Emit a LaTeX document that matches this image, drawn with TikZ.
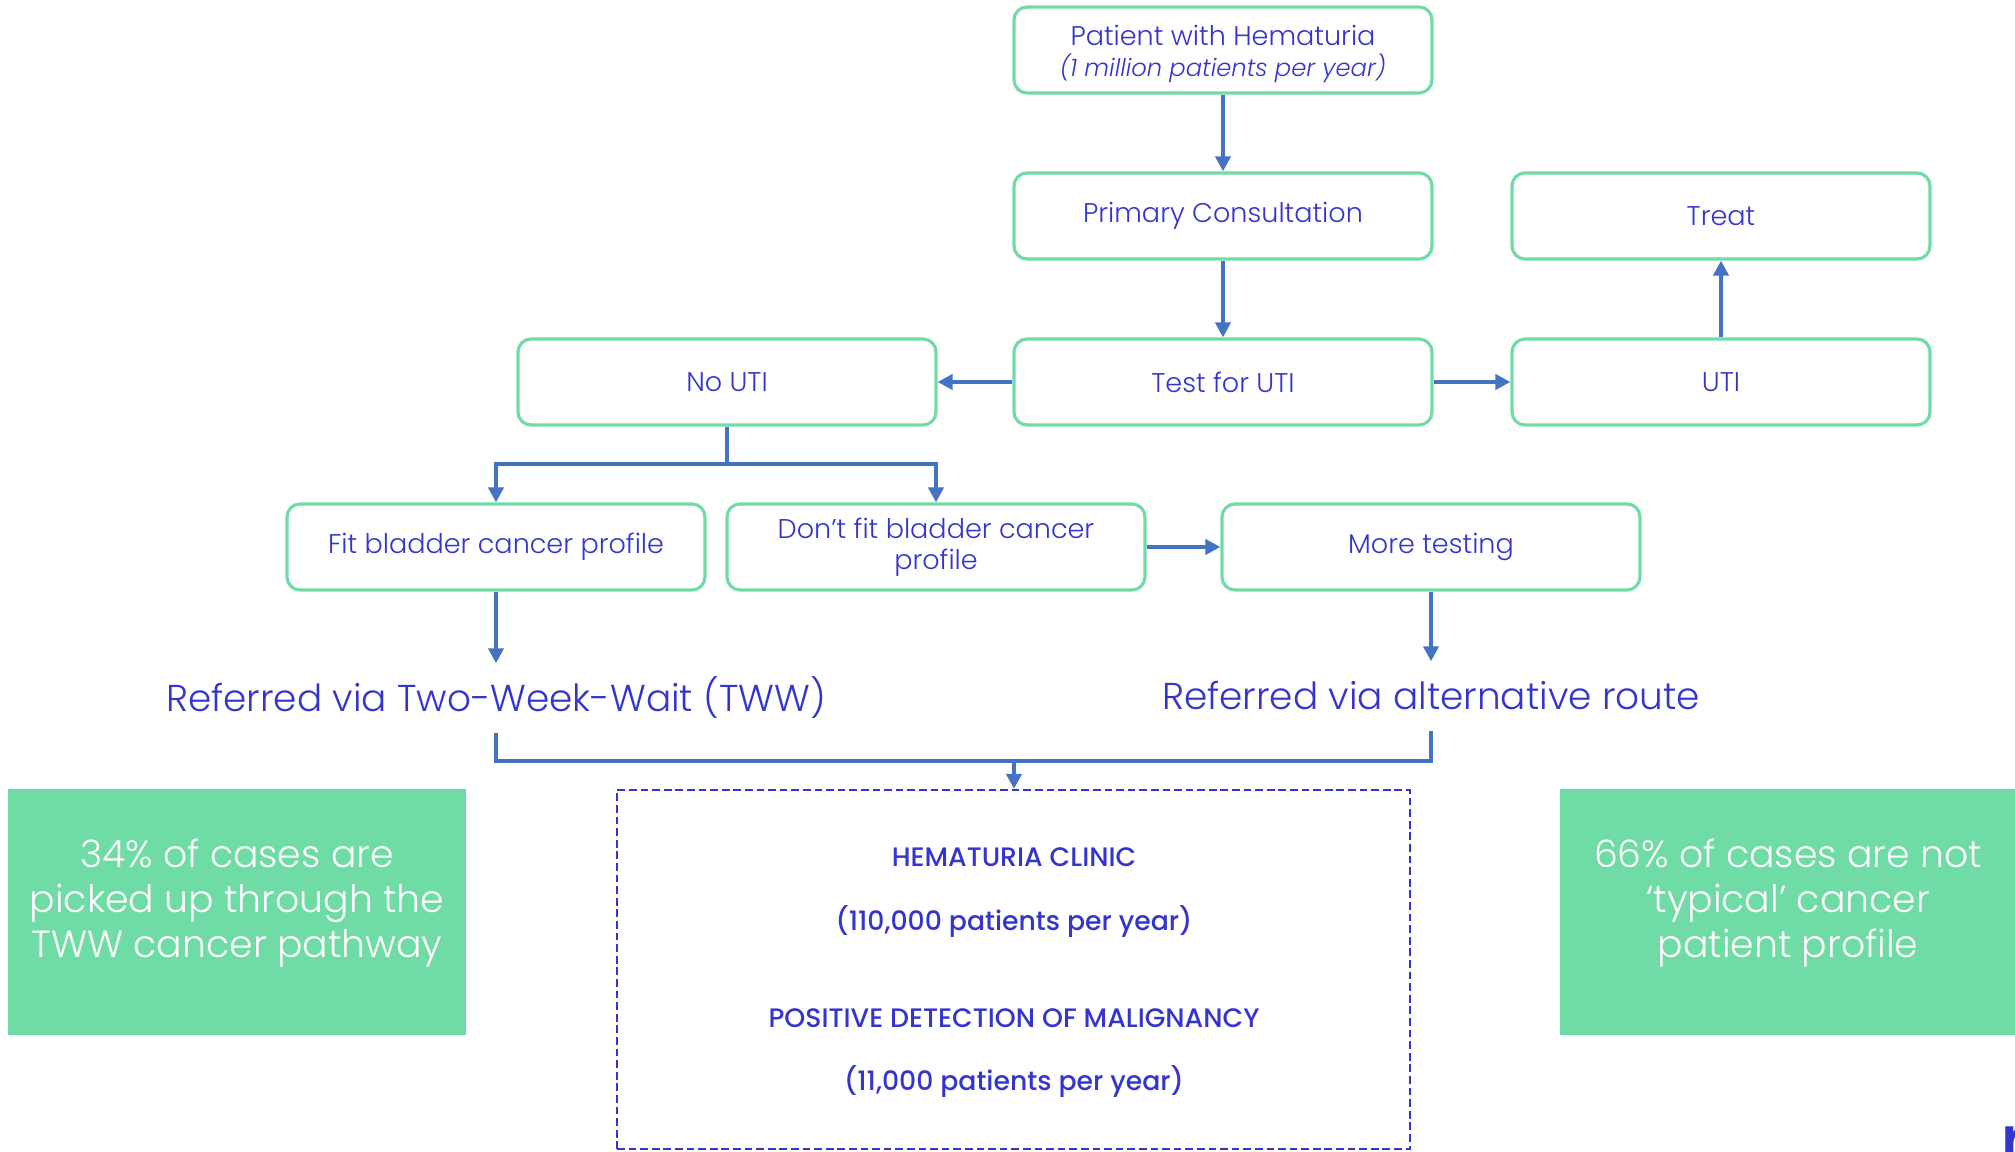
\documentclass[tikz,border=0pt]{standalone}
\usepackage{fontspec}
\setmainfont{Poppins}
\newfontfamily\poplight{Poppins Light}
\newfontfamily\poplightit{Poppins Light Italic}
\newfontfamily\popmed{Poppins Medium}
\usetikzlibrary{arrows.meta}
\definecolor{boxgreen}{HTML}{70DBA5}
\definecolor{fillgreen}{HTML}{6FDBA5}
\definecolor{txtblue}{HTML}{3434CF}
\definecolor{arrowblue}{HTML}{4472C4}
\tikzset{
  stepbox/.style={draw=boxgreen, line width=0.9pt, rounded corners=1.3mm,
    minimum width=41.8mm, minimum height=8.6mm, inner sep=0pt, align=center,
    text=txtblue, font=\poplight\fontsize{7.7}{8.9}\selectfont},
  routelabel/.style={text=txtblue, minimum height=6.8mm, inner sep=0pt,
    font=\poplight\fontsize{10.65}{13}\selectfont},
  statbox/.style={fill=fillgreen, inner sep=0pt, minimum height=24.6mm},
  stattext/.style={text=white, align=center, inner sep=0pt,
    font=\poplight\fontsize{10.75}{12.8}\selectfont},
  clinicline/.style={text=txtblue, inner sep=0pt, font=\popmed\fontsize{7.6}{9}\selectfont},
}
\begin{document}
\begin{tikzpicture}[x=0.1mm, y=-0.1mm]
      \useasboundingbox (0,0) rectangle (2015,1152);
      \draw
        (1223,50) node[stepbox] (patient){\rule{0pt}{7.9pt}Patient with Hematuria\\{\poplightit\fontsize{6.9}{8.9}\selectfont (1 million patients per year)}}
        (1223,216) node[stepbox] (consult){Primary Consultation}
        (1223,382) node[stepbox] (test){Test for UTI}
        (1721,216) node[stepbox] (treat){Treat}
        (1721,382) node[stepbox] (uti){UTI}
        (727,382) node[stepbox] (nouti){No UTI}
        (496,547) node[stepbox] (fit){Fit bladder cancer profile}
        (936,547) node[stepbox] (nofit){Don’t fit bladder cancer\\profile}
        (1431,547) node[stepbox] (more){More testing}
        (496,698) node[routelabel] (tww){Referred via Two-Week-Wait (TWW)}
        (1431,696) node[routelabel] (alt){Referred via alternative route}
        (237,912) node[statbox, minimum width=45.8mm] (tww share){}
        (1788,912) node[statbox, minimum width=45.6mm] (alt share){}
        (237,903) node[stattext] (tww note){34\% of cases are\\picked up through the\\TWW cancer pathway}
        (1788,903) node[stattext] (alt note){66\% of cases are not\\‘typical’ cancer\\patient profile}
        (2000,1166) node[anchor=base west, inner sep=0pt, text=txtblue, font=\popmed\fontsize{20}{24}\selectfont] (logo){r};
      \draw[txtblue, line width=0.6pt, dash pattern=on 2.2pt off 1.1pt]
        (1013.5,969.5) node[minimum width=79.3mm, minimum height=35.9mm, inner sep=0pt, draw] (clinic){};
      \draw
        (1014,857) node[clinicline] (clinic head){HEMATURIA CLINIC}
        (1014,922) node[clinicline] (clinic count){(110,000 patients per year)}
        (1014,1018) node[clinicline] (malig head){POSITIVE DETECTION OF MALIGNANCY}
        (1014,1082) node[clinicline] (malig count){(11,000 patients per year)};
      \coordinate (split) at (727,464);
      \coordinate (join) at (1014,761);
      \begin{scope}[arrowblue, line width=1.1pt, -{Triangle[width=1.5mm, length=1.5mm]}]
        \draw (patient) to (consult);
        \draw (consult) to (test);
        \draw (test) to (nouti);
        \draw (test) to (uti);
        \draw (uti) to (treat);
        \draw[-] (nouti) to (split);
        \draw (split) -| (fit);
        \draw (split) -| (nofit);
        \draw (nofit) to (more);
        \draw (fit) to (tww);
        \draw (more) to (alt);
        \draw[-] (tww) |- (join) -| (alt);
        \draw (join) to (clinic);
      \end{scope}
    \end{tikzpicture}
\end{document}
